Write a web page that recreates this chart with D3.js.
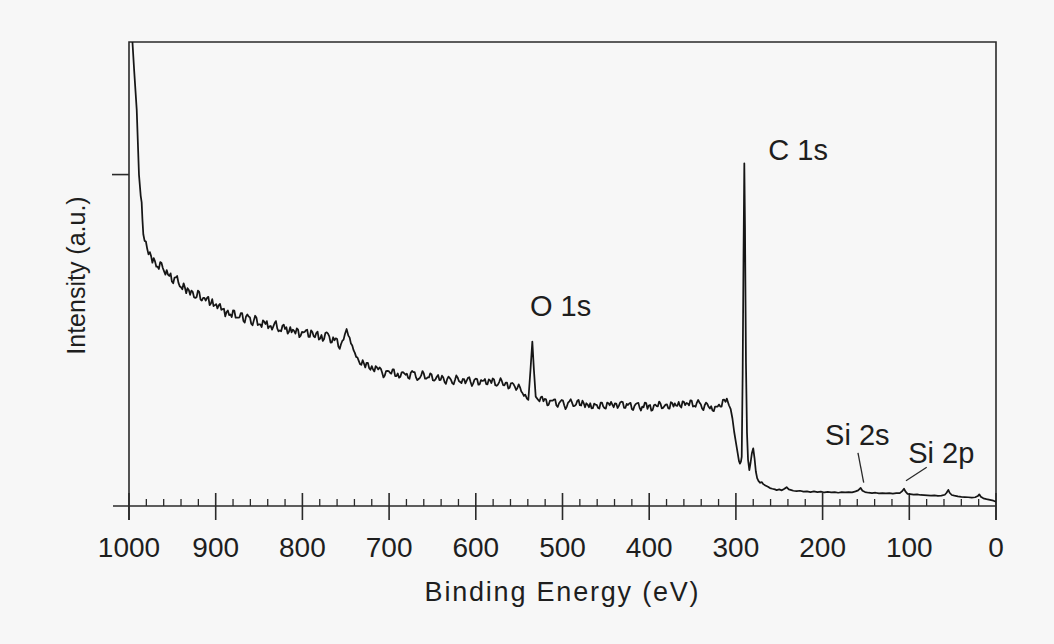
<!DOCTYPE html>
<html>
<head>
<meta charset="utf-8">
<script src="https://cdn.jsdelivr.net/npm/d3@7"></script>
<style>
  html, body { margin: 0; padding: 0; background: #f7f7f7; }
  svg { display: block; font-family: "Liberation Sans", Arial, Helvetica, sans-serif; }
  .tickLabel { font-size: 28px; fill: #1e1e1e; }
  .axisTitle { font-size: 25px; fill: #1e1e1e; }
  .peakNote { font-size: 29px; fill: #1e1e1e; }
</style>
</head>
<body>
<div id="chart"></div>
<script>
// XPS survey spectrum (eV, counts in arbitrary units)
var riseEdge = [[1000, 60], [998, 40], [996.2, 35.2], [994, 32.8], [991.1, 29.9], [988.5, 25.0],
    [986.5, 23.4], [985.4, 22.9], [984.5, 21.6], [983.5, 20.5]];

var inelasticTail = [[982, 20.0], [980.5, 19.95], [979, 19.4], [977.5, 18.98], [976, 19.15], [974.5, 18.85],
    [973, 18.35], [971.5, 18.7], [970, 18.45], [968.5, 18.05], [967, 18.05], [965.5, 17.88], [964, 18.4],
    [962.5, 18.33], [961, 17.95], [959.5, 17.7], [958, 17.45], [956.5, 17.8], [955, 17.45], [953.5, 17.35],
    [952, 17.55], [950.5, 16.93], [949, 16.8], [947.5, 17.23], [946, 17.25], [944.5, 17.35], [943, 16.85],
    [941.5, 16.58], [940, 16.5], [938.5, 16.35], [937, 16.8], [935.5, 16.48], [934, 16.05], [932.5, 16.43],
    [931, 16.3], [929.5, 15.93], [928, 16.25], [926.5, 16.15], [925, 15.75], [923.5, 15.7], [922, 15.75],
    [920.5, 16.25], [919, 16.15], [917.5, 15.58], [916, 15.5], [914.5, 15.7], [913, 15.7], [911.5, 15.5],
    [910, 15.7], [908.5, 15.78], [907, 15.15], [905.5, 15.28], [904, 15.6], [902.5, 15.08], [901, 15.15],
    [899.5, 15.23], [898, 14.9], [896.5, 15.13], [895, 15.25], [893.5, 14.8], [892, 14.85], [890.5, 14.88],
    [889, 14.3], [887.5, 14.63], [886, 14.75], [884.5, 14.4], [883, 14.45], [881.5, 14.25], [880, 14.75],
    [878.5, 14.73], [877, 14.2], [875.5, 14.2], [874, 14.2], [872.5, 14.23], [871, 14.55], [869.5, 14.55],
    [868, 13.95], [866.5, 13.83], [865, 14.3], [863.5, 14.45], [862, 14.3], [860.5, 14.23], [859, 13.75],
    [857.5, 13.63], [856, 14.0], [854.5, 14.35], [853, 14.2], [851.5, 13.65], [850, 13.7], [848.5, 13.7],
    [847, 13.5], [845.5, 14.0], [844, 13.9], [842.5, 13.73], [841, 13.95], [839.5, 13.4], [838, 13.55],
    [836.5, 13.58], [835, 13.3], [833.5, 13.55], [832, 13.8], [830.5, 13.95], [829, 13.4], [827.5, 13.18],
    [826, 13.25], [824.5, 13.18], [823, 13.6], [821.5, 13.68], [820, 13.35], [818.5, 13.48], [817, 13.0],
    [815.5, 13.15], [814, 13.5], [812.5, 13.1], [811, 13.3], [809.5, 13.2], [808, 13.0], [806.5, 13.4],
    [805, 13.3], [803.5, 12.73], [802, 12.85], [800.5, 13.13], [799, 13.1], [797.5, 13.13], [796, 13.25],
    [794.5, 13.3], [793, 12.75], [791.5, 12.75], [790, 13.25], [788.5, 13.13], [787, 12.8], [785.5, 12.73],
    [784, 13.05], [782.5, 13.15], [781, 12.55], [779.5, 12.63], [778, 12.9], [776.5, 12.45], [775, 12.6],
    [773.5, 13.05], [772, 13.1], [770.5, 13.0], [769, 12.8], [767.5, 12.33], [766, 12.35], [764.5, 12.73],
    [763, 12.5], [761.5, 12.65], [760, 12.6], [758.5, 12.03], [757, 11.85], [755.5, 12.2], [754, 12.45],
    [752.5, 12.55], [751, 12.95], [749, 13.35], [747, 12.85], [745.5, 12.7], [744, 12.25], [742.5, 12.1],
    [741, 11.75], [739.5, 11.55], [738, 11.25], [736.5, 11.2], [735, 10.95], [733.5, 10.7], [732, 10.65],
    [730.5, 11.0], [729, 10.75], [727.5, 10.45]];

var midRegion = [[726, 10.8], [724.5, 10.8], [723, 10.4], [721.5, 10.28], [720, 10.55], [718.5, 10.3],
    [717, 10.15], [715.5, 10.55], [714, 10.45], [712.5, 10.3], [711, 10.45], [709.5, 10.35], [708, 10.05],
    [706.5, 9.7], [705, 9.85], [703.5, 10.18], [702, 10.2], [700.5, 10.18], [699, 10.05], [697.5, 9.98],
    [696, 10.3], [694.5, 10.3], [693, 9.8], [691.5, 9.8], [690, 10.0], [688.5, 9.68], [687, 9.75],
    [685.5, 10.08], [684, 10.1], [682.5, 10.0], [681, 9.9], [679.5, 9.98], [678, 9.65], [676.5, 9.6],
    [675, 10.05], [673.5, 10.18], [672, 10.1], [670.5, 10.1], [669, 9.7], [667.5, 9.49], [666, 9.58],
    [664.5, 9.67], [663, 9.85], [661.5, 10.18], [660, 10.0], [658.5, 9.6], [657, 9.6], [655.5, 9.7],
    [654, 9.7], [652.5, 10.01], [651, 9.92], [649.5, 9.49], [648, 9.45], [646.5, 9.55], [645, 9.75],
    [643.5, 9.88], [642, 9.5], [640.5, 9.52], [639, 9.83], [637.5, 9.69], [636, 9.35], [634.5, 9.21],
    [633, 9.57], [631.5, 9.76], [630, 9.65], [628.5, 9.5], [627, 9.25], [625.5, 9.18], [624, 9.5],
    [622.5, 9.85], [621, 9.7], [619.5, 9.43], [618, 9.35], [616.5, 9.27], [615, 9.58], [613.5, 9.57],
    [612, 9.25], [610.5, 9.46], [609, 9.67], [607.5, 9.71], [606, 9.35], [604.5, 9.05], [603, 9.25],
    [601.5, 9.53], [600, 9.6], [598.5, 9.58], [597, 9.15], [595.5, 9.18], [594, 9.5], [592.5, 9.43],
    [591, 9.45], [589.5, 9.58], [588, 9.2], [586.5, 9.18], [585, 9.55], [583.5, 9.47], [582, 9.28],
    [580.5, 9.62], [579, 9.55], [577.5, 9.11], [576, 9.07], [574.5, 9.16], [573, 9.35], [571.5, 9.64],
    [570, 9.43], [568.5, 9.12], [567, 9.1], [565.5, 9.3], [564, 9.3], [562.5, 8.86], [561, 8.92],
    [559.5, 9.25], [558, 9.28], [556.5, 9.19], [555, 9.0], [553.5, 8.75], [552, 8.9], [550.5, 9.18],
    [549, 8.95], [547.5, 8.63], [546, 8.5], [544.5, 8.3], [543, 8.4], [541, 8.1]];

var o1sPeak = [[539.4, 8.0], [537, 10.2], [534.8, 12.4], [533, 10.3], [530.9, 8.25]];

var lowRegion = [[528, 8.0], [526.5, 7.9], [525, 8.2], [523.5, 8.25], [522, 7.9], [520.5, 8.08],
    [519, 8.05], [517.5, 7.59], [516, 7.63], [514.5, 7.94], [513, 7.95], [511.5, 7.94], [510, 8.02],
    [508.5, 8.05], [507, 7.58], [505.5, 7.47], [504, 7.75], [502.5, 7.88], [501, 8.0], [499.5, 7.95],
    [498, 7.6], [496.5, 7.3], [495, 7.5], [493.5, 7.8], [492, 7.9], [490.5, 8.05], [489, 7.8],
    [487.5, 7.53], [486, 7.55], [484.5, 7.64], [483, 7.92], [481.5, 8.01], [480, 7.6], [478.5, 7.58],
    [477, 7.95], [475.5, 7.75], [474, 7.45], [472.5, 7.75], [471, 7.65], [469.5, 7.45], [468, 7.75],
    [466.5, 7.37], [465, 7.38], [463.5, 7.72], [462, 7.65], [460.5, 7.63], [459, 7.4], [457.5, 7.35],
    [456, 7.8], [454.5, 7.8], [453, 7.5], [451.5, 7.38], [450, 7.35], [448.5, 7.8], [447, 7.75],
    [445.5, 7.6], [444, 7.85], [442.5, 7.65], [441, 7.45], [439.5, 7.74], [438, 7.73], [436.5, 7.39],
    [435, 7.55], [433.5, 7.81], [432, 7.87], [430.5, 7.84], [429, 7.4], [427.5, 7.4], [426, 7.7],
    [424.5, 7.62], [423, 7.73], [421.5, 7.78], [420, 7.32], [418.5, 7.24], [417, 7.55], [415.5, 7.7],
    [414, 7.75], [412.5, 7.78], [411, 7.4], [409.5, 7.2], [408, 7.5], [406.5, 7.45], [405, 7.8],
    [403.5, 7.77], [402, 7.33], [400.5, 7.58], [399, 7.62], [397.5, 7.19], [396, 7.25], [394.5, 7.6],
    [393, 7.65], [391.5, 7.54], [390, 7.52], [388.5, 7.88], [387, 7.73], [385.5, 7.37], [384, 7.4],
    [382.5, 7.53], [381, 7.65], [379.5, 7.66], [378, 7.37], [376.5, 7.35], [375, 7.83], [373.5, 7.77],
    [372, 7.5], [370.5, 7.74], [369, 7.57], [367.5, 7.56], [366, 7.85], [364.5, 7.54], [363, 7.43],
    [361.5, 7.89], [360, 7.85], [358.5, 7.61], [357, 7.77], [355.5, 7.73], [354, 7.59], [352.5, 7.97],
    [351, 7.95], [349.5, 7.5], [348, 7.55], [346.5, 7.48], [345, 7.8], [343.5, 8.0], [342, 7.8],
    [340.5, 7.68], [339, 7.35], [337.5, 7.23], [336, 7.6], [334.5, 7.8], [333, 7.7], [331.5, 7.48],
    [330, 7.35], [328.5, 7.53], [327, 7.2], [325.5, 7.15], [324, 7.5], [322.5, 7.5], [321, 7.5],
    [319.5, 7.65], [318, 7.5], [316.5, 7.5], [315, 8.0], [313.5, 8.03], [312, 7.85], [310.5, 8.1]];

var c1sPeak = [[308, 7.6], [306, 7.3], [304, 6.6], [302, 5.6], [300, 4.8], [298, 4.0], [296.5, 3.4],
    [295.3, 3.2], [294.2, 3.35], [293.3, 3.7], [292.2, 10], [291.2, 19], [290.3, 25.85], [289.5, 21],
    [288.4, 10.8], [287.2, 5.5], [286, 3.5], [284.5, 2.7], [283, 3.3], [281.5, 4.0], [280, 4.35],
    [278.5, 3.6], [277, 2.6], [275.5, 2.1]];

var valenceTail = [[274, 1.9], [272, 1.75], [270, 1.8], [268.4, 1.65], [266, 1.55], [263, 1.45],
    [260.7, 1.35], [258, 1.3], [255, 1.25], [253, 1.2], [250, 1.25], [247, 1.18], [244, 1.3],
    [241.5, 1.42], [239, 1.25], [236, 1.2], [233.8, 1.15], [230, 1.12], [226, 1.15], [222, 1.08],
    [218, 1.1], [214, 1.05], [210, 1.1], [206, 1.05], [202, 1.08], [198, 1.02], [194, 1.06],
    [190, 1.03], [186, 1.05], [182, 1.0], [178, 1.04], [174, 1.02], [170, 1.05], [166, 1.03],
    [162, 1.1], [159, 1.18], [156.1, 1.36], [154, 1.15], [151, 1.05], [147, 1.0], [143, 0.97],
    [139, 1.0], [135, 0.95], [131, 0.98], [127, 0.95], [123, 0.97], [119, 0.94], [115, 0.97],
    [111, 0.97], [108.5, 1.1], [106.1, 1.3], [104.5, 1.1], [102, 0.92], [99, 0.9], [95, 0.85],
    [91, 0.87], [87, 0.83], [83, 0.82], [79, 0.8], [75, 0.78], [71, 0.8], [67, 0.77], [63, 0.78],
    [59, 0.85], [57, 1.0], [55, 1.22], [53.5, 1.0], [51, 0.83], [48, 0.78], [44, 0.72], [40, 0.68],
    [36, 0.67], [32, 0.66], [28, 0.64], [24, 0.66], [21, 0.75], [19.3, 0.88], [17.5, 0.7],
    [14.6, 0.58], [11, 0.52], [7, 0.46], [3, 0.4], [0, 0.32]];

var majorTicks = [1000, 900, 800, 700, 600, 500, 400, 300, 200, 100, 0];
var minorTicks = d3.range(980, 0, -20).filter(function(v) { return v % 100 != 0; });
var yTicks = [25];

// peak labels: text anchor [eV, counts]; optional leader line from/to
var peakLabels = [
    {name: "C 1s", at: [262.6, 26.1]},
    {name: "O 1s", at: [537.5, 14.3]},
    {name: "Si 2s", at: [197.1, 4.6], lineFrom: [159.2, 4.0], lineTo: [152.6, 1.76]},
    {name: "Si 2p", at: [101.2, 3.22], lineFrom: [79.9, 2.92], lineTo: [103.8, 1.91]}
];

var spectrum = [].concat(riseEdge, inelasticTail, midRegion, o1sPeak, lowRegion, c1sPeak, valenceTail);

var width = 1054, height = 644;
var plotLeft = 129, plotRight = 996, plotTop = 42, plotBottom = 506;

var x = d3.scaleLinear().domain([1000, 0]).range([plotLeft, plotRight]);
var y = d3.scaleLinear().domain([0, 35]).range([plotBottom, plotTop]);

var svg = d3.select("#chart").append("svg")
    .attr("width", width)
    .attr("height", height);

svg.append("defs").append("clipPath")
    .attr("id", "plotClip")
    .append("rect")
    .attr("x", plotLeft)
    .attr("y", plotTop)
    .attr("width", plotRight - plotLeft)
    .attr("height", plotBottom - plotTop);

var ink = "#2a2a2a";

// frame: top, left and right sides
svg.append("path")
    .attr("d", "M" + plotLeft + "," + (plotBottom + 14) + "V" + plotTop + "H" + plotRight + "V" + (plotBottom + 14))
    .attr("fill", "none")
    .attr("stroke", ink)
    .attr("stroke-width", 1.6);

// bottom axis line, sticking out a little on the left
svg.append("line")
    .attr("x1", plotLeft - 16)
    .attr("x2", plotRight)
    .attr("y1", plotBottom)
    .attr("y2", plotBottom)
    .attr("stroke", ink)
    .attr("stroke-width", 1.6);

svg.selectAll(".majorTick")
    .data(majorTicks)
    .enter().append("line")
    .attr("class", "majorTick")
    .attr("x1", function(d) { return x(d); })
    .attr("x2", function(d) { return x(d); })
    .attr("y1", plotBottom - 13)
    .attr("y2", plotBottom + 14)
    .attr("stroke", ink)
    .attr("stroke-width", 1.6);

svg.selectAll(".minorTick")
    .data(minorTicks)
    .enter().append("line")
    .attr("class", "minorTick")
    .attr("x1", function(d) { return x(d); })
    .attr("x2", function(d) { return x(d); })
    .attr("y1", plotBottom - 7)
    .attr("y2", plotBottom)
    .attr("stroke", ink)
    .attr("stroke-width", 1.3);

svg.selectAll(".tickLabel")
    .data(majorTicks)
    .enter().append("text")
    .attr("class", "tickLabel")
    .attr("x", function(d) { return x(d); })
    .attr("y", plotBottom + 51)
    .attr("text-anchor", "middle")
    .text(function(d) { return d; });

svg.selectAll(".yTick")
    .data(yTicks)
    .enter().append("line")
    .attr("class", "yTick")
    .attr("x1", plotLeft - 17)
    .attr("x2", plotLeft)
    .attr("y1", function(d) { return y(d); })
    .attr("y2", function(d) { return y(d); })
    .attr("stroke", ink)
    .attr("stroke-width", 1.6);

svg.append("text")
    .attr("class", "axisTitle")
    .attr("x", (plotLeft + plotRight) / 2)
    .attr("y", 601)
    .attr("text-anchor", "middle")
    .style("font-size", "27px")
    .attr("letter-spacing", 1.8)
    .text("Binding Energy (eV)");

svg.append("text")
    .attr("class", "axisTitle")
    .attr("transform", "translate(85," + 275.5 + ") rotate(-90)")
    .attr("text-anchor", "middle")
    .text("Intensity (a.u.)");

var line = d3.line()
    .x(function(d) { return x(d[0]); })
    .y(function(d) { return y(d[1]); });

svg.append("path")
    .datum(spectrum)
    .attr("clip-path", "url(#plotClip)")
    .attr("d", line)
    .attr("fill", "none")
    .attr("stroke", "#161616")
    .attr("stroke-width", 1.75)
    .attr("stroke-linejoin", "round");

svg.selectAll(".peakNote")
    .data(peakLabels)
    .enter().append("text")
    .attr("class", "peakNote")
    .attr("x", function(d) { return x(d.at[0]); })
    .attr("y", function(d) { return y(d.at[1]); })
    .text(function(d) { return d.name; });

svg.selectAll(".leader")
    .data(peakLabels.filter(function(d) { return d.lineFrom; }))
    .enter().append("line")
    .attr("class", "leader")
    .attr("x1", function(d) { return x(d.lineFrom[0]); })
    .attr("y1", function(d) { return y(d.lineFrom[1]); })
    .attr("x2", function(d) { return x(d.lineTo[0]); })
    .attr("y2", function(d) { return y(d.lineTo[1]); })
    .attr("stroke", ink)
    .attr("stroke-width", 1.3);
</script>
</body>
</html>
